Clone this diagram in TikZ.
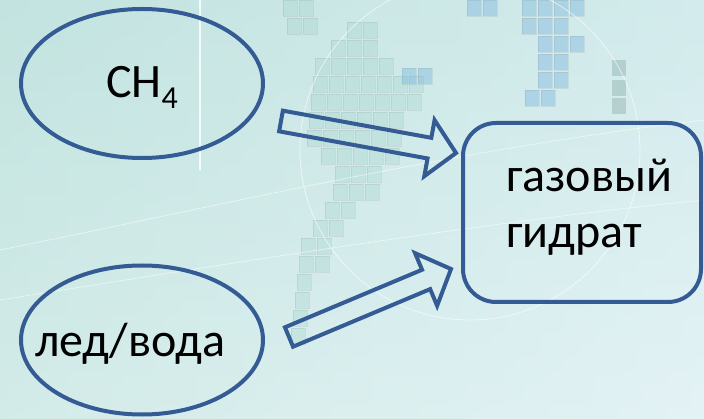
\documentclass[tikz,border=0pt]{standalone}
\usepackage{fontspec}
\setmainfont{Carlito}
\usetikzlibrary{shapes.geometric,calc}

\definecolor{edge}{HTML}{345B94}
\definecolor{bgtop}{HTML}{CBE7E6}
\definecolor{bgbottom}{HTML}{E9F5F7}
\definecolor{bgleft}{HTML}{B8E0D8}
\definecolor{bgright}{HTML}{DDF0F4}
\definecolor{tileteal}{HTML}{9FD3CC}
\definecolor{tileblue}{HTML}{7FB9E0}

\tikzset{
  shape line/.style={draw=edge, line width=4pt},
  bubble/.style={ellipse, shape line, minimum width=242pt, minimum height=149pt, inner sep=0pt},
  card/.style={rectangle, rounded corners=33pt, shape line, minimum width=238pt, minimum height=179pt, inner sep=0pt},
  label text/.style={font=\fontsize{48}{56}\selectfont, text=black, inner sep=0pt},
  fat arrow/.style={shape line, line join=miter, miter limit=10},
  tealtile/.style={fill=tileteal, fill opacity=0.3, draw=gray, draw opacity=0.15, line width=0.6pt},
  bluetile/.style={fill=tileblue, fill opacity=0.45, draw=gray, draw opacity=0.15, line width=0.6pt},
}

% outlined block arrow from tail #1 to tip #2
\newcommand\fatarrow[2]{%
  \coordinate (#1-head) at ($(#2)!27pt!(#1)$);
  \draw[fat arrow]
    ($(#1)!10.5pt!90:(#2)$) --
    ($(#1-head)!10.5pt!90:(#2)$) --
    ($(#1-head)!28.5pt!90:(#2)$) --
    (#2) --
    ($(#1-head)!28.5pt!-90:(#2)$) --
    ($(#1-head)!10.5pt!-90:(#2)$) --
    ($(#1)!10.5pt!-90:(#2)$) -- cycle;
}

\begin{document}
\begin{tikzpicture}[x=1pt, y=-1pt]
\useasboundingbox (0,0) rectangle (704,419);

% backdrop
\shade[top color=bgtop, bottom color=bgbottom] (0,0) rectangle (704,419);
\shade[left color=bgleft, right color=bgright, opacity=0.45] (0,0) rectangle (704,419);

% faint tiles
\foreach \x/\y in {347/22,363/22,
  331/40,347/40,363/40,
  315/58,331/58,347/58,363/58,379/58,
  313/76,329/76,345/76,361/76,377/76,393/76,409/76,
  311/94,327/94,343/94,359/94,375/94,391/94,407/94,
  309/112,325/112,341/112,357/112,373/112,389/112,
  307/130,323/130,339/130,355/130,371/130,387/130,
  321/148,337/148,353/148,369/148,385/148,
  335/166,351/166,367/166,
  333/184,349/184,365/184,
  325/202,341/202,
  313/220,329/220,
  301/238,317/238,
  299/256,315/256,
  297/274,295/292,293/310,291/328,
  283/0,299/0,287/18,303/18}
  \filldraw[tealtile] (\x,\y) rectangle ++(14,16);
\foreach \x/\y in {467/0,483/0,
  522/0,538/0,554/0,570/0,
  522/18,538/18,554/18,
  538/36,554/36,570/36,
  538/54,554/54,
  538/72,554/72,
  525/90,541/90,
  402/68,418/68}
  \filldraw[bluetile] (\x,\y) rectangle ++(14,16);
\foreach \y in {60,80,98}
  \fill[fill=tileteal!75!black, fill opacity=0.35] (612,\y) rectangle ++(14,16);

% light lines of the backdrop
\draw[white, line width=1.5pt, opacity=0.8] (200,0) -- (200,170);
\draw[white, line width=0.8pt, opacity=0.6] (470,150) circle (170pt);
\draw[white, line width=0.8pt, opacity=0.5] (0,250) .. controls (200,210) and (450,150) .. (704,120);
\draw[white, line width=0.8pt, opacity=0.5] (0,300) .. controls (250,260) and (500,220) .. (704,200);

% shapes
\node[bubble] (methane) at (142,83.5) {};
\node[bubble] (water) at (142,340) {};
\node[card] (hydrate) at (582,212.5) {};

\node[label text, anchor=base west] (methanetext) at (106,98)
  {CH\raisebox{-0.21em}{\fontsize{32}{32}\selectfont 4}};
\node[label text, anchor=base west] (watertext) at (35,357) {лед/вода};
\node[label text, anchor=base west, align=left] (hydratetext) at (506,248)
  {газовый\\гидрат};

% arrows into the hydrate
\coordinate (a1) at (281,121);
\coordinate (b1) at (456,153);
\coordinate (a2) at (289,337);
\coordinate (b2) at (451,269);
\fatarrow{a1}{b1}
\fatarrow{a2}{b2}
\end{tikzpicture}
\end{document}
